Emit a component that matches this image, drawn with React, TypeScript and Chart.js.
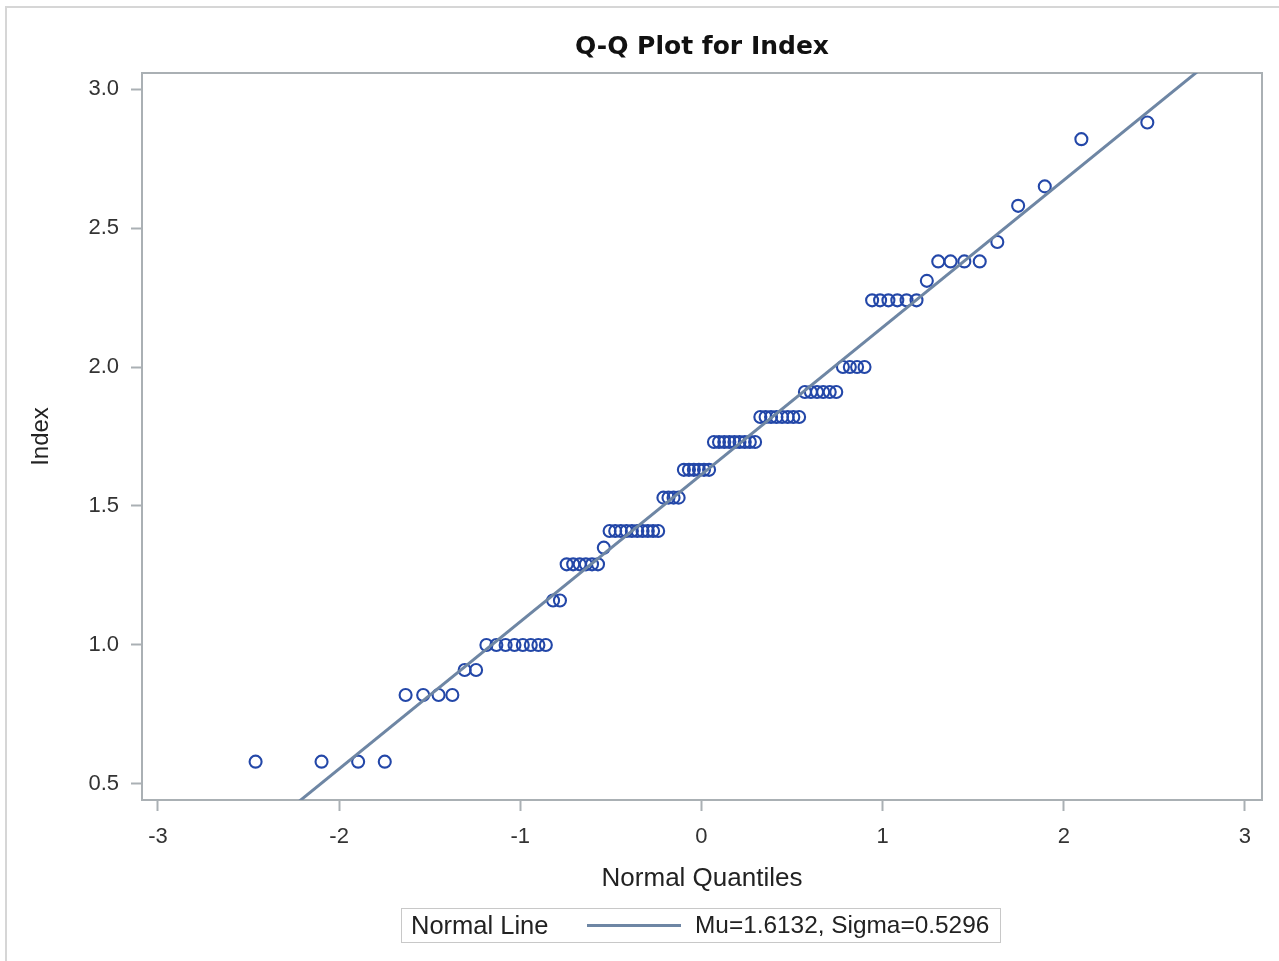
import React, { useEffect, useRef } from "react";
import { Chart, registerables } from "chart.js";

Chart.register(...registerables);

const quantiles = [
  -2.461, -2.097, -1.895, -1.748, -1.633, -1.536, -1.451, -1.375, -1.307, -1.244,
  -1.187, -1.132, -1.081, -1.032, -0.986, -0.942, -0.9, -0.859, -0.819, -0.781,
  -0.744, -0.708, -0.672, -0.638, -0.604, -0.571, -0.539, -0.507, -0.476, -0.445,
  -0.414, -0.384, -0.354, -0.325, -0.296, -0.267, -0.239, -0.21, -0.182, -0.154,
  -0.126, -0.097, -0.069, -0.042, -0.014, 0.014, 0.042, 0.069, 0.097, 0.126,
  0.154, 0.182, 0.21, 0.239, 0.267, 0.296, 0.325, 0.354, 0.384, 0.414,
  0.445, 0.476, 0.507, 0.539, 0.571, 0.604, 0.638, 0.672, 0.708, 0.744,
  0.781, 0.819, 0.859, 0.9, 0.942, 0.986, 1.032, 1.081, 1.132, 1.187,
  1.244, 1.307, 1.375, 1.451, 1.536, 1.633, 1.748, 1.895, 2.097, 2.461,
];

// Observed Index values (y), sorted
const indexValues = [
  0.58, 0.58, 0.58, 0.58, 0.82, 0.82, 0.82, 0.82, 0.91, 0.91,
  1.0, 1.0, 1.0, 1.0, 1.0, 1.0, 1.0, 1.0, 1.16, 1.16,
  1.29, 1.29, 1.29, 1.29, 1.29, 1.29, 1.35, 1.41, 1.41, 1.41,
  1.41, 1.41, 1.41, 1.41, 1.41, 1.41, 1.41, 1.53, 1.53, 1.53,
  1.53, 1.63, 1.63, 1.63, 1.63, 1.63, 1.63, 1.73, 1.73, 1.73,
  1.73, 1.73, 1.73, 1.73, 1.73, 1.73, 1.82, 1.82, 1.82, 1.82,
  1.82, 1.82, 1.82, 1.82, 1.91, 1.91, 1.91, 1.91, 1.91, 1.91,
  2.0, 2.0, 2.0, 2.0, 2.24, 2.24, 2.24, 2.24, 2.24, 2.24,
  2.31, 2.38, 2.38, 2.38, 2.38, 2.45, 2.58, 2.65, 2.82, 2.88,
];

const xTickValues = [-3, -2, -1, 0, 1, 2, 3];
const xTickLabels = ["-3", "-2", "-1", "0", "1", "2", "3"];
const yTickValues = [0.5, 1.0, 1.5, 2.0, 2.5, 3.0];
const yTickLabels = ["0.5", "1.0", "1.5", "2.0", "2.5", "3.0"];

const mu = 1.6132;
const sigma = 0.5296;
const xRange = [-3.088, 3.094];
const yRange = [0.442, 3.058];

const titleText = "Q-Q Plot for Index";
const xTitle = "Normal Quantiles";
const yTitle = "Index";
const legendTitle = "Normal Line";
const legendLabel = "Mu=1.6132, Sigma=0.5296";

const W = 1279;
const H = 961;
const FRAME = "#aab0b4";
const MARKER = "#2347a8";
const LINE = "#6e86a4";
const SANS = "'Liberation Sans', Arial, sans-serif";

const framePlugin = {
  id: "framePlugin",
  beforeDraw(chart: any) {
    const ctx = chart.ctx;
    ctx.save();
    ctx.fillStyle = "#ffffff";
    ctx.fillRect(0, 0, chart.width, chart.height);
    ctx.strokeStyle = "#d6d6d6";
    ctx.lineWidth = 2;
    ctx.strokeRect(6, 7, chart.width + 20, chart.height + 20);
    ctx.restore();
  },
  beforeDatasetsDraw(chart: any) {
    const { ctx, chartArea: a } = chart;
    ctx.save();
    ctx.strokeStyle = FRAME;
    ctx.lineWidth = 2;
    ctx.strokeRect(a.left, a.top, a.right - a.left, a.bottom - a.top);
    ctx.restore();
  },
};

export default function App() {
  const ref = useRef<HTMLCanvasElement | null>(null);

  useEffect(() => {
    document.body.style.margin = "0";
    const canvas = ref.current;
    if (!canvas) return;
    const points = quantiles.map((q, i) => ({ x: q, y: indexValues[i] }));
    const linePts = xRange.map((x) => ({ x, y: mu + sigma * x }));

    const chart = new Chart(canvas, {
      type: "scatter",
      data: {
        datasets: [
          {
            type: "line",
            label: legendLabel,
            data: linePts,
            borderColor: LINE,
            borderWidth: 3,
            pointRadius: 0,
            fill: false,
            clip: 0,
          } as any,
          {
            label: yTitle,
            data: points,
            pointStyle: "circle",
            pointRadius: 6,
            pointBorderWidth: 2.1,
            borderColor: MARKER,
            backgroundColor: "rgba(0,0,0,0)",
            pointBackgroundColor: "rgba(0,0,0,0)",
            pointBorderColor: MARKER,
          },
        ],
      },
      options: {
        responsive: false,
        animation: false,
        devicePixelRatio: 1,
        layout: { padding: { top: 0, left: 0, right: 17, bottom: 66.4 } },
        plugins: {
          legend: { display: false },
          tooltip: { enabled: false },
          title: {
            display: true,
            text: titleText,
            fullSize: false,
            color: "#111111",
            font: { family: "'DejaVu Sans', sans-serif", size: 25, weight: "bold" },
            padding: { top: 32.5, bottom: 10.5 },
          },
        },
        scales: {
          x: {
            type: "linear",
            min: xRange[0],
            max: xRange[1],
            afterFit: (s: any) => {
              s.height = 94.6;
            },
            afterBuildTicks: (s: any) => {
              s.ticks = xTickValues.map((v) => ({ value: v }));
            },
            ticks: {
              callback: (_v: any, i: number) => xTickLabels[i],
              color: "#333333",
              font: { family: SANS, size: 22 },
              padding: 13,
              maxRotation: 0,
              autoSkip: false,
            },
            grid: {
              drawOnChartArea: false,
              drawTicks: true,
              tickLength: 11,
              tickWidth: 2,
              tickColor: FRAME,
              color: FRAME,
            },
            border: { display: false },
            title: {
              display: true,
              text: xTitle,
              color: "#222222",
              font: { family: SANS, size: 26 },
              padding: { top: 0, bottom: 0 },
            },
          },
          y: {
            type: "linear",
            min: yRange[0],
            max: yRange[1],
            afterFit: (s: any) => {
              s.width = 142;
            },
            afterBuildTicks: (s: any) => {
              s.ticks = yTickValues.map((v) => ({ value: v }));
            },
            ticks: {
              callback: (_v: any, i: number) => yTickLabels[i],
              color: "#333333",
              font: { family: SANS, size: 22 },
              padding: 12,
              autoSkip: false,
            },
            grid: {
              drawOnChartArea: false,
              drawTicks: true,
              tickLength: 11,
              tickWidth: 2,
              tickColor: FRAME,
              color: FRAME,
            },
            border: { display: false },
            title: {
              display: true,
              text: yTitle,
              color: "#222222",
              font: { family: SANS, size: 24 },
              padding: { top: 26.6, bottom: 0 },
            },
          },
        },
      },
      plugins: [framePlugin],
    });
    return () => chart.destroy();
  }, []);

  return (
    <div style={{ position: "relative", width: W, height: H, overflow: "hidden", background: "#fff" }}>
      <canvas ref={ref} width={W} height={H} style={{ display: "block", width: W, height: H }} />
      <div
        style={{
          position: "absolute",
          left: 401,
          top: 908,
          width: 600,
          height: 35,
          boxSizing: "border-box",
          border: "1.5px solid #c8c8c8",
          fontFamily: SANS,
          color: "#222",
          lineHeight: "32px",
        }}
      >
        <span style={{ position: "absolute", left: 9, top: 0, fontSize: 25.5 }}>{legendTitle}</span>
        <span
          style={{
            position: "absolute",
            left: 185,
            top: 15,
            width: 94,
            height: 3,
            background: LINE,
          }}
        />
        <span style={{ position: "absolute", left: 293, top: 0, fontSize: 24.4, whiteSpace: "nowrap" }}>
          {legendLabel}
        </span>
      </div>
    </div>
  );
}
